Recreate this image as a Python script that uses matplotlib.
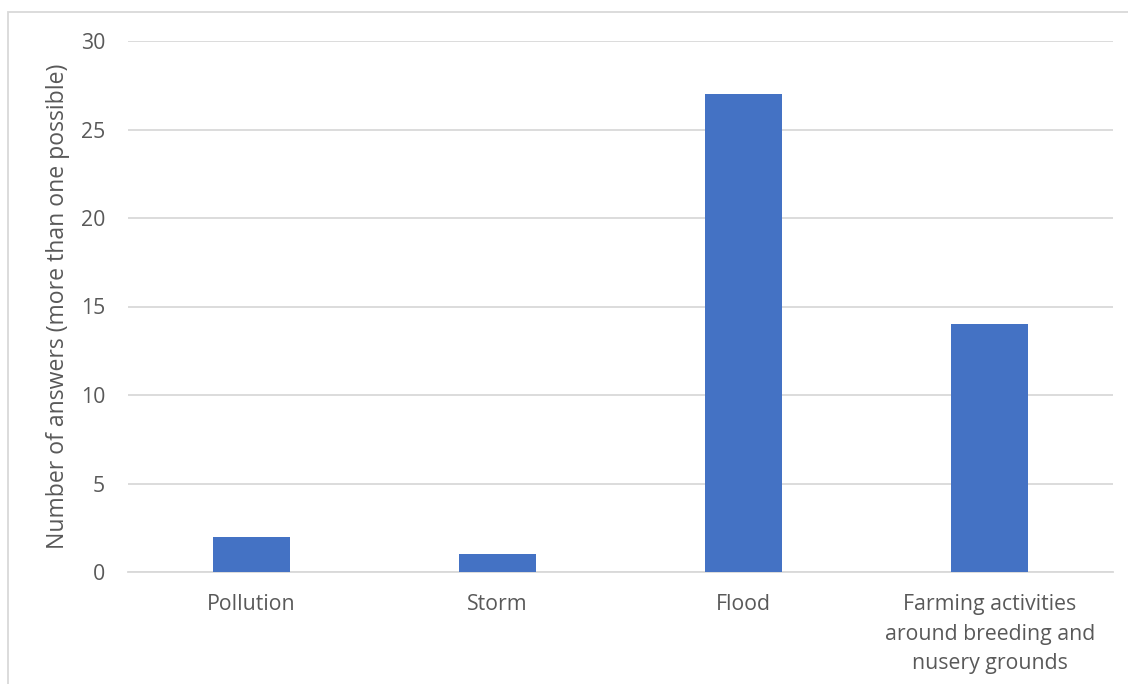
import matplotlib.pyplot as plt
from matplotlib.patches import Rectangle

categories = ['Pollution', 'Storm', 'Flood',
              'Farming activities\naround breeding and\nnusery grounds']
answers = [2, 1, 27, 14]
y_ticks = [0, 5, 10, 15, 20, 25, 30]

text_grey = '#595959'
plt.rcParams['font.family'] = ['Open Sans', 'DejaVu Sans']

fig = plt.figure(figsize=(11.28, 6.84), dpi=100)
ax = fig.add_axes([128 / 1128, 1 - 572 / 684, (1113 - 128) / 1128, (572 - 41) / 684])

# light chart-area frame
fig.patches.append(Rectangle((8 / 1128, -0.1), 1.2, 1 - 12 / 684 + 0.1,
                             transform=fig.transFigure, fill=False,
                             edgecolor='#d9d9d9', linewidth=1.3))

x = range(len(categories))
ax.bar(x, answers, width=0.313, color='#4472c4', zorder=3)

ax.set_xlim(-0.5, len(categories) - 0.5)
ax.set_ylim(0, 30)
ax.set_yticks(y_ticks)
ax.set_xticks(list(x))
ax.set_xticklabels(categories, linespacing=1.52)
ax.yaxis.grid(True, color='#d9d9d9', linewidth=1.3, zorder=0)
ax.tick_params(axis='both', length=0, labelsize=15.3, colors=text_grey)
ax.tick_params(axis='x', pad=16)
ax.tick_params(axis='y', pad=16.5)
for s in ['top', 'right', 'left']:
    ax.spines[s].set_visible(False)
ax.spines['bottom'].set_color('#d9d9d9')
ax.spines['bottom'].set_linewidth(1.3)

ax.set_ylabel('Number of answers (more than one possible)', fontsize=16.6,
              color=text_grey)
ax.yaxis.set_label_coords(-0.059, 0.5)

fig.savefig('out.png', dpi=100)
